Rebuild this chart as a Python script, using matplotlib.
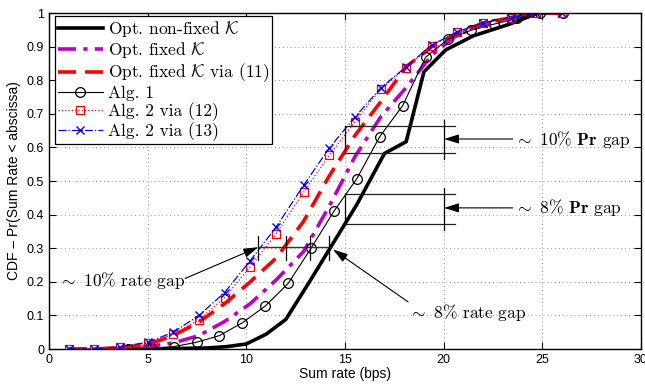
import numpy as np
import matplotlib
matplotlib.use('Agg')
import matplotlib.pyplot as plt

# ==========================================
# DATA
# ==========================================
# common grid for Alg. 2 / Opt. fixed curves
x_grid = [1.0, 2.3, 3.6, 5.0, 6.3, 7.6, 8.9, 10.2, 11.5, 12.9,
          14.2, 15.5, 16.8, 18.1, 19.4, 20.7, 22.0, 23.4, 24.7, 26.0]

alg2_13 = [0, 0, 0.007, 0.02, 0.05, 0.10, 0.168, 0.263, 0.362, 0.487,
           0.598, 0.69, 0.776, 0.84, 0.905, 0.944, 0.971, 0.986, 1.0, 1.0]
alg2_12 = [0, 0, 0.005, 0.017, 0.044, 0.087, 0.153, 0.245, 0.342, 0.466,
           0.577, 0.676, 0.773, 0.837, 0.903, 0.943, 0.971, 0.986, 1.0, 1.0]
opt_fixed_11 = [0, 0, 0.004, 0.013, 0.04, 0.08, 0.135, 0.20, 0.27, 0.38,
                0.515, 0.635, 0.735, 0.84, 0.90, 0.94, 0.97, 0.986, 1.0, 1.0]
opt_fixed = [0, 0, 0.002, 0.007, 0.018, 0.04, 0.082, 0.135, 0.205, 0.29,
             0.425, 0.572, 0.69, 0.778, 0.875, 0.935, 0.965, 0.985, 1.0, 1.0]

# Alg. 1 has its own grid
x_alg1 = [4.0, 5.16, 6.32, 7.48, 8.64, 9.8, 10.96, 12.12, 13.28, 14.44,
          15.6, 16.76, 17.92, 19.08, 20.24, 21.4, 22.56, 23.72, 24.88, 26.04]
alg1 = [0, 0.002, 0.007, 0.02, 0.04, 0.078, 0.128, 0.195, 0.30, 0.41,
        0.507, 0.632, 0.724, 0.868, 0.923, 0.949, 0.967, 0.984, 1.0, 1.0]

# Opt. non-fixed K (no markers)
x_nonfixed = [4, 6, 8, 9, 10, 11, 12, 13.2, 14.4, 15.6, 17.0, 18.1,
              19.0, 20.1, 21.5, 23.3, 24.8, 26]
opt_nonfixed = [0, 0.001, 0.003, 0.007, 0.015, 0.044, 0.088, 0.20, 0.315,
                0.43, 0.582, 0.617, 0.825, 0.89, 0.932, 0.966, 1.0, 1.0]

# ==========================================
# STYLE
# ==========================================
plt.rcParams['font.family'] = ['Liberation Sans', 'DejaVu Sans']
plt.rcParams['mathtext.fontset'] = 'cm'
SERIF = 'cmr10'
PURPLE = '#bf00bf'

fig = plt.figure(figsize=(6.45, 3.85), dpi=100)
ax = fig.add_axes([49 / 645, 1 - 349 / 385, 592 / 645, 336 / 385])

ax.plot(x_nonfixed, opt_nonfixed, color='black', lw=2.6,
        label=r'Opt. non-fixed $\mathcal{K}$')
ax.plot(x_grid, opt_fixed, color=PURPLE, lw=2.6, ls=(0, (5, 2, 1.2, 2)),
        label=r'Opt. fixed $\mathcal{K}$')
ax.plot(x_grid, opt_fixed_11, color='red', lw=2.6, ls=(0, (5, 2.5)),
        label=r'Opt. fixed $\mathcal{K}$ via (11)')
ax.plot(x_alg1, alg1, color='black', lw=0.8, marker='o', ms=7,
        mfc='none', mec='black', mew=0.9, label='Alg. 1')
ax.plot(x_grid, alg2_12, color='red', lw=0.9, ls=':', marker='s', ms=6,
        mfc='none', mec='red', mew=0.9, label='Alg. 2 via (12)')
ax.plot(x_grid, alg2_13, color='blue', lw=0.9, ls='-.', marker='x', ms=6,
        mew=1.0, label='Alg. 2 via (13)')

ax.set_xlim(0, 30)
ax.set_ylim(0, 1)
ax.set_xticks(np.arange(0, 31, 5))
ax.set_yticks(np.arange(0, 1.01, 0.1))
ax.set_yticklabels(['0', '0.1', '0.2', '0.3', '0.4', '0.5', '0.6',
                    '0.7', '0.8', '0.9', '1'])
ax.tick_params(direction='in', top=True, right=True, labelsize=9,
               length=5, width=0.8)
ax.grid(True, ls=(0, (1, 3)), color='#999999', lw=0.7)
for s in ax.spines.values():
    s.set_linewidth(1.0)
ax.set_xlabel('Sum rate (bps)', fontsize=10, labelpad=1)
ax.set_ylabel('CDF \u2013 Pr(Sum Rate < abscissa)', fontsize=10, labelpad=4)

leg = ax.legend(loc='upper left', bbox_to_anchor=(0.01, 0.99),
                prop={'family': SERIF, 'size': 12.5}, handlelength=2.6,
                handletextpad=0.3, labelspacing=0.08, borderpad=0.15,
                borderaxespad=0, fancybox=False, framealpha=1,
                edgecolor='black')
leg.get_frame().set_linewidth(0.9)

# ==========================================
# ANNOTATIONS
# ==========================================
arrow = dict(arrowstyle='-|>,head_length=0.9,head_width=0.28',
             color='black', lw=0.8, shrinkA=0, shrinkB=0)
txt = dict(family=SERIF, fontsize=12.5, va='center')

# rate gaps at CDF = 0.3
ax.plot([10.6, 14.25], [0.303, 0.303], color='#333333', lw=1.0)
for xt in [10.6, 12.0, 13.23, 14.2]:
    ax.plot([xt, xt], [0.265, 0.337], color='black', lw=0.9)
ax.annotate('', xy=(10.6, 0.303), xytext=(6.9, 0.21), arrowprops=arrow)
ax.text(0.45, 0.205, r'${\sim}$ 10% rate gap', ha='left', **txt)
ax.annotate('', xy=(14.4, 0.296), xytext=(18.2, 0.14), arrowprops=arrow)
ax.text(18.2, 0.108, r'${\sim}$ 8% rate gap', ha='left', **txt)

# Pr gaps at 15 bps
for y_top, y_bot, y_mid, label in [(0.664, 0.582, 0.625, r'${\sim}$ 10% $\mathbf{Pr}$ gap'),
                                    (0.461, 0.372, 0.42, r'${\sim}$ 8% $\mathbf{Pr}$ gap')]:
    ax.plot([15.0, 20.55], [y_top, y_top], color='#222222', lw=0.9)
    ax.plot([15.0, 20.55], [y_bot, y_bot], color='#222222', lw=0.9)
    ax.plot([15.0, 15.0], [y_bot, y_top], color='black', lw=0.9)
    ax.plot([20.02, 20.02], [y_bot - 0.018, y_top + 0.018], color='black', lw=0.9)
    ax.annotate('', xy=(20.02, y_mid), xytext=(23.5, y_mid), arrowprops=arrow)
    ax.text(23.55, y_mid, label, ha='left', **txt)

fig.savefig('out.png', dpi=100)
